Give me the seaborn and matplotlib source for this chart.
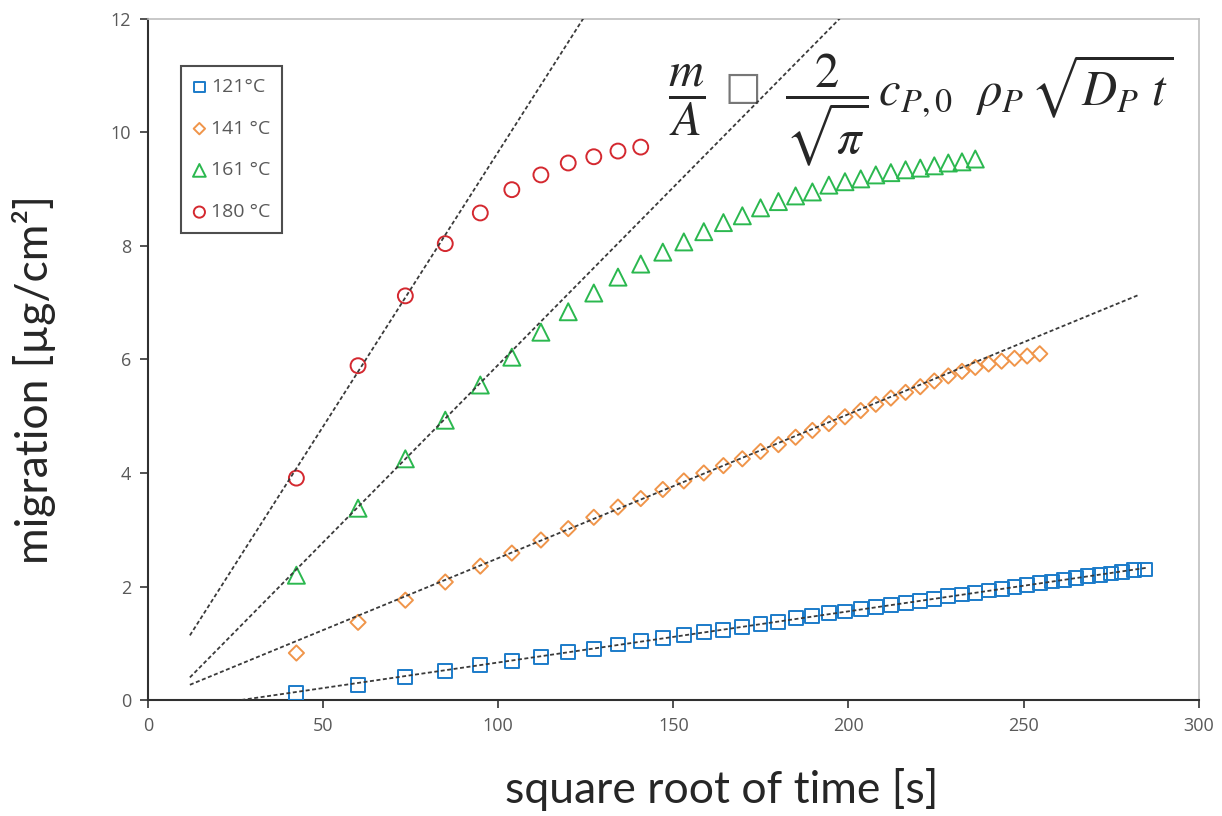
import matplotlib
matplotlib.use("Agg")
import matplotlib.pyplot as plt
import seaborn as sns
import pandas as pd
import numpy as np

# square root of time [s] (30 min sampling)
sqrt_t = [42.4, 60.0, 73.5, 84.9, 94.9, 103.9, 112.2, 120.0, 127.3, 134.2,
          140.7, 147.0, 153.0, 158.7, 164.3, 169.7, 174.9, 180.0, 184.9, 189.7,
          194.4, 199.0, 203.5, 207.8, 212.1, 216.3, 220.5, 224.5, 228.5, 232.4,
          236.2, 240.0, 243.7, 247.4, 251.0, 254.6, 258.1, 261.5, 264.9, 268.3,
          271.7, 275.0, 278.2, 281.4, 284.6]

m_121 = [0.12, 0.26, 0.41, 0.52, 0.62, 0.69, 0.76, 0.84, 0.90, 0.98,
         1.04, 1.10, 1.14, 1.20, 1.24, 1.29, 1.34, 1.38, 1.45, 1.48,
         1.53, 1.56, 1.60, 1.64, 1.68, 1.71, 1.75, 1.78, 1.83, 1.86,
         1.89, 1.93, 1.96, 1.99, 2.03, 2.06, 2.09, 2.12, 2.15, 2.18,
         2.20, 2.23, 2.26, 2.29, 2.30]
m_141 = [0.83, 1.37, 1.76, 2.08, 2.36, 2.59, 2.82, 3.02, 3.22, 3.40,
         3.55, 3.71, 3.86, 4.00, 4.13, 4.25, 4.38, 4.50, 4.63, 4.75,
         4.87, 4.99, 5.10, 5.21, 5.32, 5.42, 5.52, 5.62, 5.71, 5.79,
         5.86, 5.92, 5.97, 6.02, 6.06, 6.10]
m_161 = [2.20, 3.38, 4.25, 4.93, 5.55, 6.04, 6.48, 6.84, 7.17, 7.45,
         7.68, 7.89, 8.07, 8.25, 8.41, 8.53, 8.67, 8.78, 8.88, 8.95,
         9.07, 9.13, 9.18, 9.25, 9.29, 9.34, 9.37, 9.41, 9.46, 9.48,
         9.53]
m_180 = [3.91, 5.89, 7.12, 8.04, 8.58, 8.99, 9.25, 9.46, 9.57, 9.67, 9.74]

# fitted sqrt(t) lines (start / end)
fit_x = {"121": [12, 285], "141": [12, 283], "161": [12, 200], "180": [12, 126]}
fit_y = {"121": [-0.13, 2.33], "141": [0.27, 7.14], "161": [0.40, 12.16], "180": [1.14, 12.17]}

labels = ["121°C", "141 °C", "161 °C", "180 °C"]
keys = ["121", "141", "161", "180"]
series = [m_121, m_141, m_161, m_180]
colors = ["#1b7bc9", "#f0954a", "#2bb84f", "#d4282f"]
markers = ["s", "D", "^", "o"]
sizes = [100, 60, 150, 115]

sns.set_style("ticks")
plt.rcParams["font.family"] = ["Open Sans", "DejaVu Sans"]
plt.rcParams["mathtext.fontset"] = "stix"

fig = plt.figure(figsize=(12.22, 8.16), dpi=100)
ax = fig.add_axes([0.121, 0.142, 0.860, 0.835])

for k, vals, lab, c, mk, s in zip(keys, series, labels, colors, markers, sizes):
    df = pd.DataFrame({"x": sqrt_t[:len(vals)], "y": vals})
    sns.scatterplot(data=df, x="x", y="y", ax=ax, marker=mk, s=s, color=c,
                    facecolor="none", edgecolor=c, linewidth=1.4, label=lab, zorder=3)

for k in keys:
    sns.lineplot(x=fit_x[k], y=fit_y[k], ax=ax, color="#3a3a3a", lw=1.3,
                 linestyle=(0, (2.2, 1.4)), legend=False, zorder=4)

ax.set_xlim(0, 300)
ax.set_ylim(0, 12)
ax.set_xticks([0, 50, 100, 150, 200, 250, 300])
ax.set_yticks([0, 2, 4, 6, 8, 10, 12])
ax.tick_params(axis="both", direction="out", length=6, width=1.2, color="#333333",
               labelsize=13, labelcolor="#595959", pad=6)

for side in ["left", "bottom"]:
    ax.spines[side].set_color("#303030")
    ax.spines[side].set_linewidth(1.5)
for side in ["top", "right"]:
    ax.spines[side].set_color("#bfbfbf")
    ax.spines[side].set_linewidth(1.2)

ax.set_xlabel("square root of time [s]", fontsize=32, family=["Lato", "DejaVu Sans"], va="top")
ax.set_ylabel("migration [µg/cm²]", fontsize=32, family=["Lato", "DejaVu Sans"])
ax.xaxis.set_label_coords(0.546, -0.099)
ax.yaxis.set_label_coords(-0.087, 0.47)

leg = ax.legend(loc="upper left", bbox_to_anchor=(0.032, 0.931), fontsize=14,
                labelspacing=1.22, handletextpad=0.3, handlelength=0.58,
                borderpad=0.63, markerscale=0.75, frameon=True, fancybox=False,
                borderaxespad=0)
leg.get_frame().set_edgecolor("#222222")
leg.get_frame().set_linewidth(1.5)
for t in leg.get_texts():
    t.set_color("#595959")

# formula: m/A [missing glyph] 2/sqrt(pi) c_P,0 rho_P sqrt(D_P t)
ax.text(0.4948, 0.872, r"$\dfrac{m}{A}$", transform=ax.transAxes,
        fontsize=35, va="baseline", ha="left")
ax.text(0.549, 0.898, "□", transform=ax.transAxes, fontsize=28, va="center", ha="left",
        color="#777777", family=["DejaVu Sans"])
ax.text(0.606, 0.872, r"$\dfrac{2}{\sqrt{\pi}}\,c_{P,0}\ \ \rho_P\,\sqrt{D_P\ t}$",
        transform=ax.transAxes, fontsize=35, va="baseline", ha="left")

fig.savefig("out.png", dpi=100)
